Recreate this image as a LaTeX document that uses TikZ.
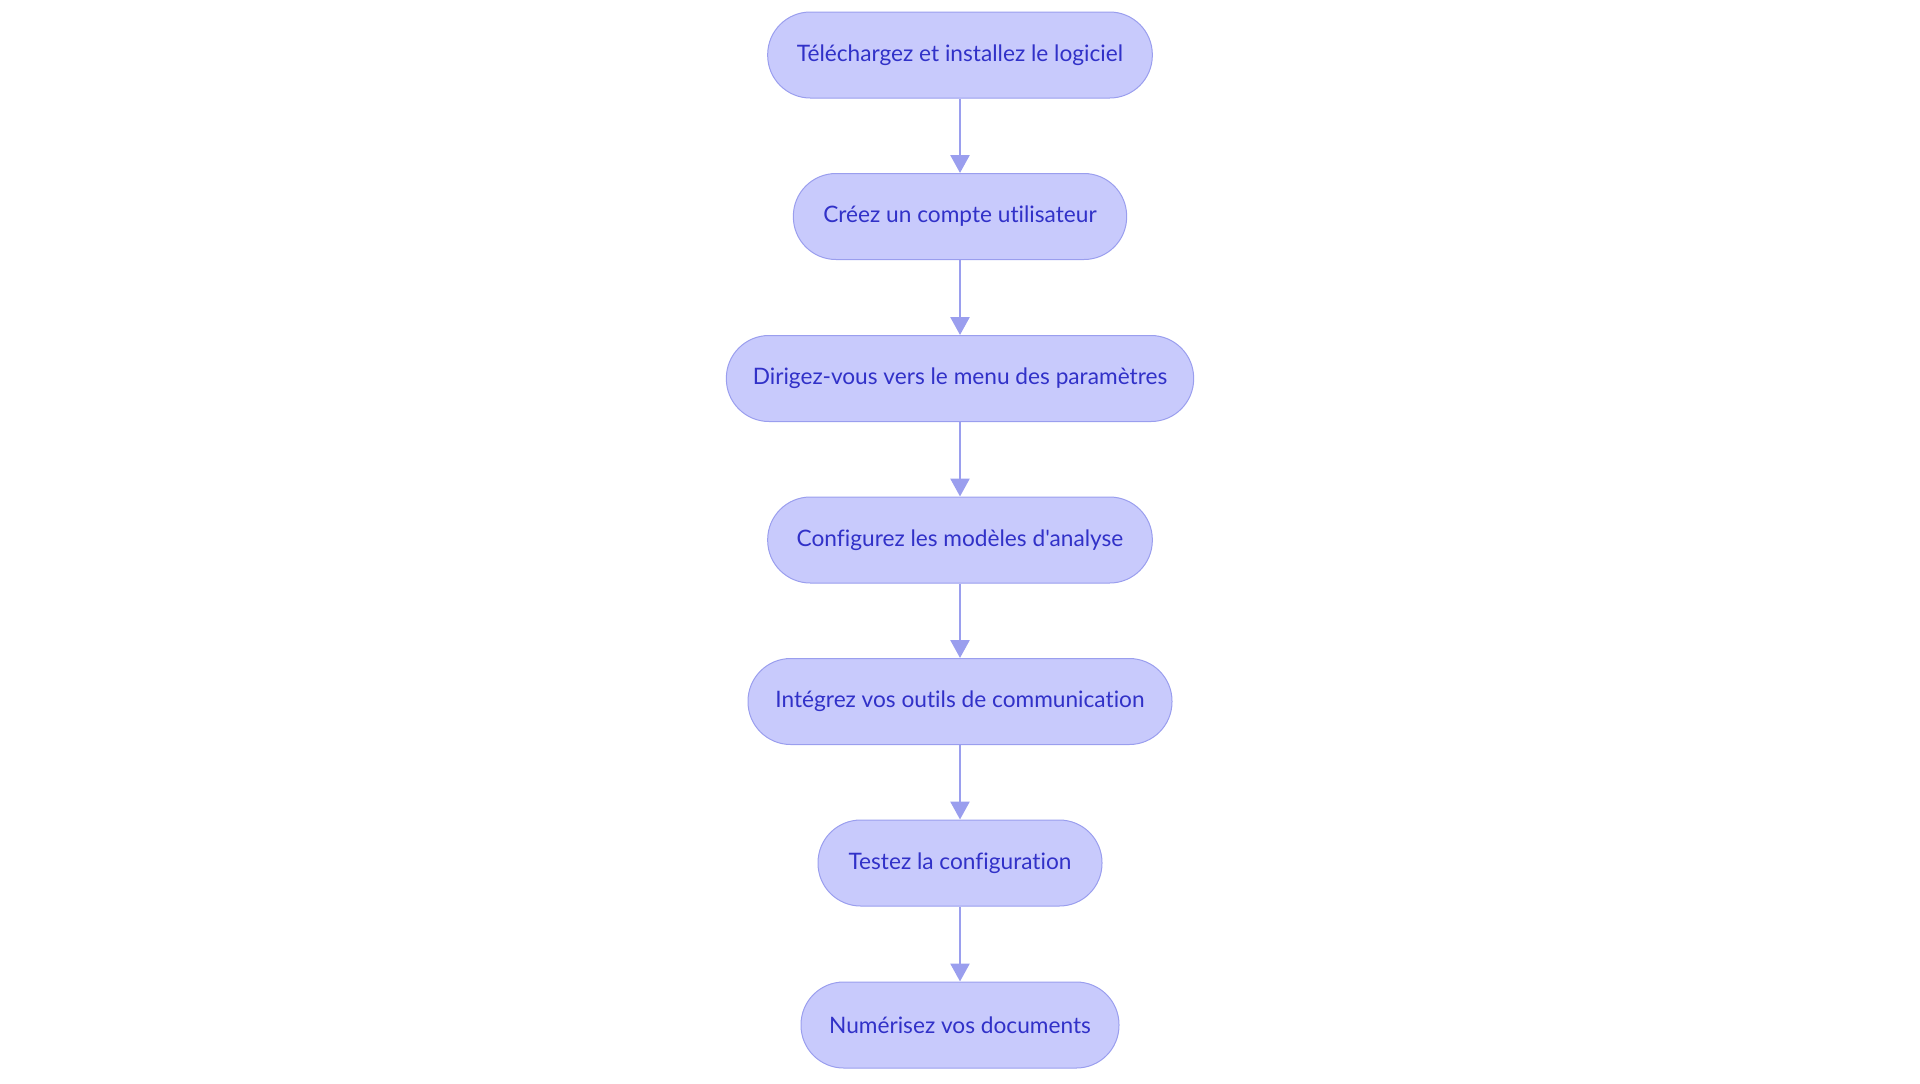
\documentclass[tikz,border=0pt]{standalone}
\usepackage{fontspec}
\setmainfont{Lato}[Ligatures={TeXOff,NoCommon}]
\usetikzlibrary{arrows.meta}
\definecolor{nodefill}{HTML}{C8CAFC}
\definecolor{nodeborder}{HTML}{9A9EEE}
\definecolor{nodetext}{HTML}{3131C8}
\definecolor{edgecol}{HTML}{9A9EEE}
\tikzset{
  stepbox/.style={draw=nodeborder, fill=nodefill, line width=0.75pt,
    rounded corners=32pt, minimum height=64.5pt, inner sep=0pt,
    text=nodetext, font=\fontsize{17}{20}\selectfont},
  flow/.style={draw=edgecol, line width=2pt,
    -{Triangle[width=14.25pt,length=13.5pt]}, shorten >=0pt}
}
\begin{document}
\begin{tikzpicture}[x=0.75pt,y=-0.75pt]
\useasboundingbox (0,0) rectangle (1920,1083);
\node[stepbox, minimum width=288.5pt] (n1) at (960,55) {Téléchargez et installez le logiciel};
\node[stepbox, minimum width=250pt] (n2) at (960,216.5) {Créez un compte utilisateur};
\node[stepbox, minimum width=350.5pt] (n3) at (960,378.5) {Dirigez-vous vers le menu des paramètres};
\node[stepbox, minimum width=288.5pt] (n4) at (960,540) {Configurez les modèles d'analyse};
\node[stepbox, minimum width=318pt] (n5) at (960,701.5) {Intégrez vos outils de communication};
\node[stepbox, minimum width=213pt] (n6) at (960,863) {Testez la configuration};
\node[stepbox, minimum width=238.5pt] (n7) at (960,1025) {Numérisez vos documents};
\draw[flow] (n1) -- (n2);
\draw[flow] (n2) -- (n3);
\draw[flow] (n3) -- (n4);
\draw[flow] (n4) -- (n5);
\draw[flow] (n5) -- (n6);
\draw[flow] (n6) -- (n7);
\end{tikzpicture}
\end{document}
